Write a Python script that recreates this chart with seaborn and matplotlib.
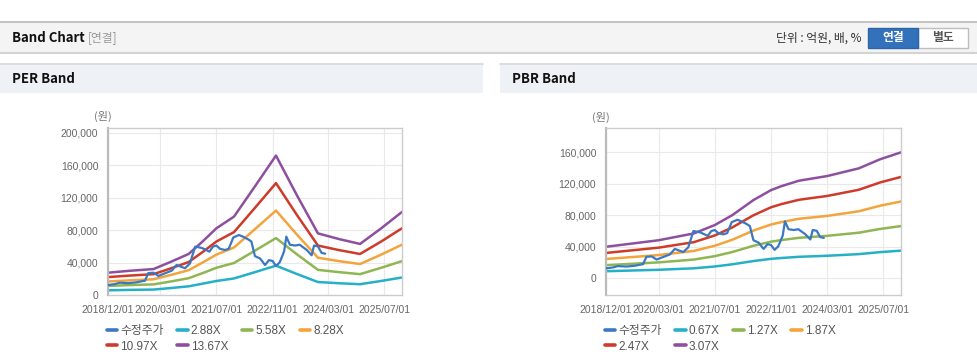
import pandas as pd
import matplotlib.pyplot as plt
import matplotlib.dates as mdates
from matplotlib.lines import Line2D
from matplotlib.patches import Rectangle, FancyBboxPatch
from matplotlib.ticker import FuncFormatter
import seaborn as sns

# adjusted close price (수정주가), shared by both charts
price_dates = ['2018-12-01', '2019-02-01', '2019-03-13', '2019-05-25', '2019-08-01', '2019-10-19',
               '2019-11-16', '2020-01-01', '2020-02-13', '2020-03-25', '2020-06-07', '2020-07-19',
               '2020-10-01', '2020-11-13', '2020-12-28', '2021-02-25', '2021-05-01', '2021-06-01',
               '2021-07-01', '2021-08-01', '2021-09-13', '2021-10-16', '2021-11-25', '2022-01-13',
               '2022-02-16', '2022-04-01', '2022-05-01', '2022-06-01', '2022-07-16', '2022-08-28',
               '2022-10-01', '2022-11-01', '2022-12-01', '2023-01-01', '2023-01-19', '2023-02-10',
               '2023-03-01', '2023-04-01', '2023-05-16', '2023-06-25', '2023-08-25', '2023-10-07',
               '2023-10-28', '2023-12-01', '2024-01-01', '2024-02-01']
price_values = [12300, 13500, 15200, 14600, 15500, 17700,
                27000, 27500, 23500, 25900, 30000, 37000,
                33000, 39000, 59700, 58000, 53500, 59700,
                61000, 57000, 55500, 57000, 71000, 74000,
                72000, 68800, 66000, 48000, 45000, 37000,
                43000, 42000, 35800, 40000, 46000, 54000,
                72000, 62000, 61000, 62000, 55600, 49000,
                61000, 60000, 52000, 51000]

# PER band
per_dates = ['2018-12-01', '2019-06-01', '2020-01-01', '2020-06-01', '2020-11-01', '2021-03-01',
             '2021-07-01', '2021-12-01', '2022-06-01', '2022-12-01', '2023-06-01', '2023-12-01',
             '2024-06-01', '2024-12-01', '2025-06-01', '2025-12-01']
per_labels = ['2.88X', '5.58X', '8.28X', '10.97X', '13.67X']
per_2_88 = [5800, 6300, 6700, 8600, 10700, 13900, 17300, 20400, 28200, 36200, 25900, 16000, 14500, 13300, 17300, 21600]
per_5_58 = [11200, 12200, 13100, 16700, 20700, 26900, 33600, 39500, 54700, 70200, 50200, 31000, 28200, 25700, 33500, 41800]
per_8_28 = [16700, 18000, 19400, 24800, 30600, 39900, 49800, 58600, 81200, 104200, 74500, 46000, 41800, 38200, 49700, 62100]
per_10_97 = [22100, 23900, 25700, 32900, 40600, 52800, 66000, 77600, 107500, 138000, 98700, 61000, 55400, 50600, 65800, 82300]
per_13_67 = [27500, 29800, 32000, 41000, 50600, 65800, 82300, 96700, 134000, 172000, 123000, 76000, 69000, 63000, 82000, 102500]

# PBR band
pbr_dates = ['2018-12-01', '2020-03-01', '2021-01-01', '2021-07-01', '2021-12-01', '2022-06-01',
             '2022-11-01', '2023-02-01', '2023-07-01', '2024-03-01', '2024-12-01', '2025-06-01',
             '2025-12-01']
pbr_labels = ['0.67X', '1.27X', '1.87X', '2.47X', '3.07X']
pbr_0_67 = [8700, 10500, 12400, 14700, 17500, 21600, 24400, 25500, 27000, 28300, 30400, 32900, 34800]
pbr_1_27 = [16400, 19900, 23500, 27800, 33100, 41000, 46200, 48300, 51100, 53600, 57600, 62300, 66000]
pbr_1_87 = [24200, 29200, 34500, 41000, 48700, 60300, 68000, 71100, 75300, 78900, 84800, 91800, 97200]
pbr_2_47 = [31900, 38600, 45600, 54100, 64400, 79700, 89900, 94000, 99400, 104200, 112100, 121300, 128400]
pbr_3_07 = [39700, 48000, 56700, 67300, 80000, 99000, 111700, 116800, 123600, 129500, 139300, 150700, 159600]

x_ticks = ['2018-12-01', '2020-03-01', '2021-07-01', '2022-11-01', '2024-03-01', '2025-07-01']
colors = ['#3b78c3', '#25b0c8', '#8fb652', '#f3a43c', '#cf3b2b', '#8e4f9f']

W, H = 978, 364

sns.set_style('white')
plt.rcParams['font.family'] = ['Liberation Sans', 'Noto Sans CJK KR']
KR = ['Noto Sans CJK KR', 'Liberation Sans']


def fx(x):
    return x / W


def fy(y):
    return 1 - y / H


def make_frame(band_dates, band_labels, band_values):
    parts = [pd.DataFrame({'date': pd.to_datetime(price_dates), 'value': price_values, 'series': '수정주가'})]
    for lab, vals in zip(band_labels, band_values):
        parts.append(pd.DataFrame({'date': pd.to_datetime(band_dates), 'value': vals, 'series': lab}))
    return pd.concat(parts, ignore_index=True)


def draw_band(ax, df, labels, ylim, yticks):
    order = ['수정주가'] + labels
    pal = dict(zip(order, colors))
    sns.lineplot(data=df, x='date', y='value', hue='series', hue_order=order,
                 palette=pal, linewidth=1.8, estimator=None, legend=False, ax=ax)
    lines = ax.get_lines()
    lines[0].set_zorder(5)
    lines[0].set_linewidth(1.6)

    ax.set_xlim(pd.Timestamp('2018-12-01'), pd.Timestamp('2025-12-01'))
    ax.set_xticks(pd.to_datetime(x_ticks))
    ax.xaxis.set_major_formatter(mdates.DateFormatter('%Y/%m/%d'))
    ax.set_ylim(*ylim)
    ax.set_yticks(yticks)
    ax.yaxis.set_major_formatter(FuncFormatter(lambda v, p: f'{v:,.0f}'))
    ax.set_xlabel('')
    ax.set_ylabel('')
    ax.grid(True, color='#e9e9e9', lw=0.8)
    ax.set_axisbelow(True)
    for s in ax.spines.values():
        s.set_color('#cccccc')
        s.set_linewidth(1)
    ax.spines['left'].set_color('#bbbbbb')
    ax.spines['left'].set_linewidth(1.6)
    ax.tick_params(labelsize=7.5, labelcolor='#666666', color='#cccccc', length=4, pad=3)

    handles = [Line2D([], [], color=pal[s], lw=2.6) for s in order]
    idx = [0, 4, 1, 5, 2, 3]
    ax.legend([handles[i] for i in idx], [order[i] for i in idx],
              loc='upper left', bbox_to_anchor=(-0.005, -0.18), ncol=4, frameon=False,
              handlelength=0.9, handletextpad=0.25, columnspacing=1.15, labelspacing=0.3,
              borderpad=0, borderaxespad=0, fontsize=8.5, labelcolor='#555555')


fig = plt.figure(figsize=(W / 100, H / 100), dpi=100)

# header bars
fig.add_artist(Rectangle((0, fy(53)), 1, 31 / H, transform=fig.transFigure,
                         facecolor='#f4f4f4', edgecolor='none'))
fig.add_artist(Line2D([0, 1], [fy(22), fy(22)], transform=fig.transFigure, color='#b9b9b9', lw=1.2))
fig.add_artist(Line2D([0, 1], [fy(53), fy(53)], transform=fig.transFigure, color='#d3d3d3', lw=1.5))
for x0, x1 in [(0, 483), (500, 978)]:
    fig.add_artist(Rectangle((fx(x0), fy(93)), (x1 - x0) / W, 29 / H, transform=fig.transFigure,
                             facecolor='#eef2f7', edgecolor='none'))
    fig.add_artist(Line2D([fx(x0), fx(x1)], [fy(64), fy(64)], transform=fig.transFigure,
                          color='#d8d8d8', lw=1.2))

fig.text(fx(12), fy(38), 'Band Chart', fontsize=9.5, fontweight='bold', color='#111111',
         va='center', family=KR)
fig.text(fx(88), fy(38), '[연결]', fontsize=8.5, color='#999999', va='center', family=KR)
fig.text(fx(862), fy(38), '단위 : 억원, 배, %', fontsize=8.5, color='#333333', va='center',
         ha='right', family=KR)
fig.add_artist(FancyBboxPatch((fx(918), fy(48)), 50 / W, 20 / H, transform=fig.transFigure,
                              boxstyle='square,pad=0', facecolor='white', edgecolor='#bdbdbd', lw=1))
fig.add_artist(FancyBboxPatch((fx(868), fy(48)), 50 / W, 20 / H, transform=fig.transFigure,
                              boxstyle='square,pad=0', facecolor='#3372bb', edgecolor='#2c64a6', lw=1))
fig.text(fx(893), fy(38), '연결', fontsize=8.5, fontweight='bold', color='white', va='center',
         ha='center', family=KR)
fig.text(fx(943), fy(38), '별도', fontsize=8.5, fontweight='bold', color='#555555', va='center',
         ha='center', family=KR)
fig.text(fx(12), fy(79), 'PER Band', fontsize=9.5, fontweight='bold', color='#111111',
         va='center', family=KR)
fig.text(fx(512), fy(79), 'PBR Band', fontsize=9.5, fontweight='bold', color='#111111',
         va='center', family=KR)

ax1 = fig.add_axes([fx(108), fy(295), 294 / W, 167 / H])
ax2 = fig.add_axes([fx(606), fy(295), 295 / W, 167 / H])

per_df = make_frame(per_dates, per_labels, [per_2_88, per_5_58, per_8_28, per_10_97, per_13_67])
pbr_df = make_frame(pbr_dates, pbr_labels, [pbr_0_67, pbr_1_27, pbr_1_87, pbr_2_47, pbr_3_07])

draw_band(ax1, per_df, per_labels, (0, 206000), range(0, 200001, 40000))
draw_band(ax2, pbr_df, pbr_labels, (-21500, 190500), range(0, 160001, 40000))

fig.text(fx(103), fy(116), '(원)', fontsize=8, color='#777777', ha='center', va='center', family=KR)
fig.text(fx(601), fy(117), '(원)', fontsize=8, color='#777777', ha='center', va='center', family=KR)

fig.savefig('out.png', dpi=100)
